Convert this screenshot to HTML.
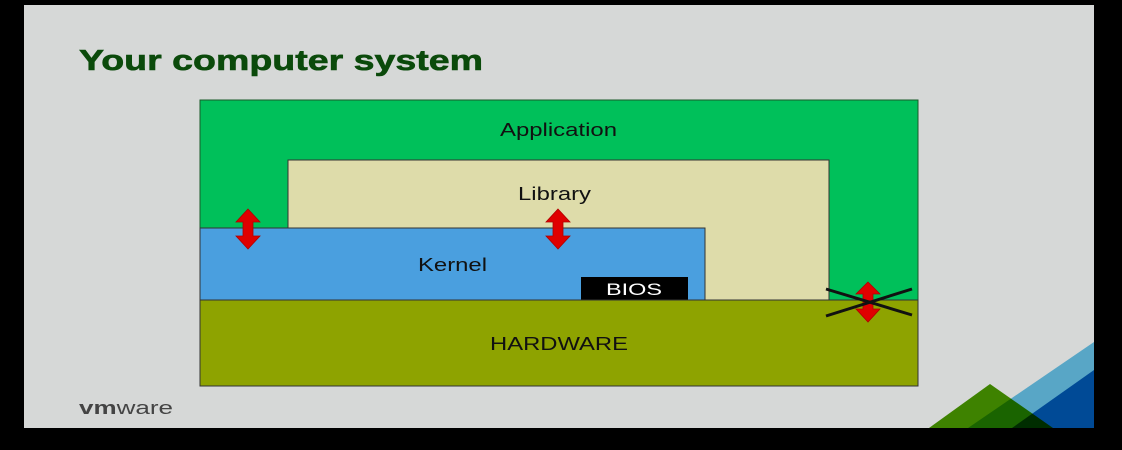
<!DOCTYPE html>
<html><head><style>
html,body{margin:0;padding:0;background:#000;}
svg{display:block;}
text{font-family:"Liberation Sans",sans-serif;}
</style></head><body>
<svg width="1122" height="450" viewBox="0 0 1122 450" xmlns="http://www.w3.org/2000/svg">
<rect x="0" y="0" width="1122" height="450" fill="#000"/>
<rect x="24" y="5" width="1070" height="423" fill="#d6d8d7"/>
<text x="79" y="70" font-size="29" font-weight="bold" fill="#0b4a0b" stroke="#0b4a0b" stroke-width="0.6" textLength="404" lengthAdjust="spacingAndGlyphs">Your computer system</text>
<rect x="200" y="100" width="718" height="286" fill="#00c05a" stroke="#1a5a2a" stroke-width="1"/>
<text x="500" y="136" font-size="18" fill="#111" textLength="117" lengthAdjust="spacingAndGlyphs">Application</text>
<rect x="288" y="160" width="541" height="140" fill="#dedcaa" stroke="#333" stroke-width="1"/>
<text x="518" y="200" font-size="18" fill="#111" textLength="73" lengthAdjust="spacingAndGlyphs">Library</text>
<rect x="200" y="228" width="505" height="72" fill="#4a9fdf" stroke="#333" stroke-width="1"/>
<text x="418" y="271" font-size="18" fill="#111" textLength="69" lengthAdjust="spacingAndGlyphs">Kernel</text>
<rect x="581" y="277" width="107" height="23" fill="#000"/>
<text x="606" y="295" font-size="17" fill="#fff" textLength="56" lengthAdjust="spacingAndGlyphs">BIOS</text>
<rect x="200" y="300" width="718" height="86" fill="#8ea300" stroke="#333" stroke-width="1"/>
<text x="490" y="350" font-size="18" fill="#111" textLength="138" lengthAdjust="spacingAndGlyphs">HARDWARE</text>
<g fill="#e00000" stroke="#b00000" stroke-width="0.8">
<polygon points="248,209 260,222 253,222 253,236 260,236 248,249 236,236 243,236 243,222 236,222"/>
<polygon points="558,209 570,222 563,222 563,236 570,236 558,249 546,236 553,236 553,222 546,222"/>
<polygon points="868,282 880,294 873,294 873,309 880,309 868,322 856,309 863,309 863,294 856,294"/>
</g>
<line x1="826" y1="289" x2="912" y2="315" stroke="#111" stroke-width="3"/>
<line x1="826" y1="316" x2="912" y2="289" stroke="#111" stroke-width="3"/>
<text x="79" y="414" font-size="18" fill="#444" textLength="94" lengthAdjust="spacingAndGlyphs"><tspan font-weight="bold">vm</tspan>ware</text>
<polygon points="968,428 1094,342 1094,428" fill="#58a6c6"/>
<polygon points="1012,428 1094,370 1094,428" fill="#004a96"/>
<polygon points="929,428 990,384 1053,428" fill="#4a9a00" style="mix-blend-mode:multiply"/>
</svg>
</body></html>
